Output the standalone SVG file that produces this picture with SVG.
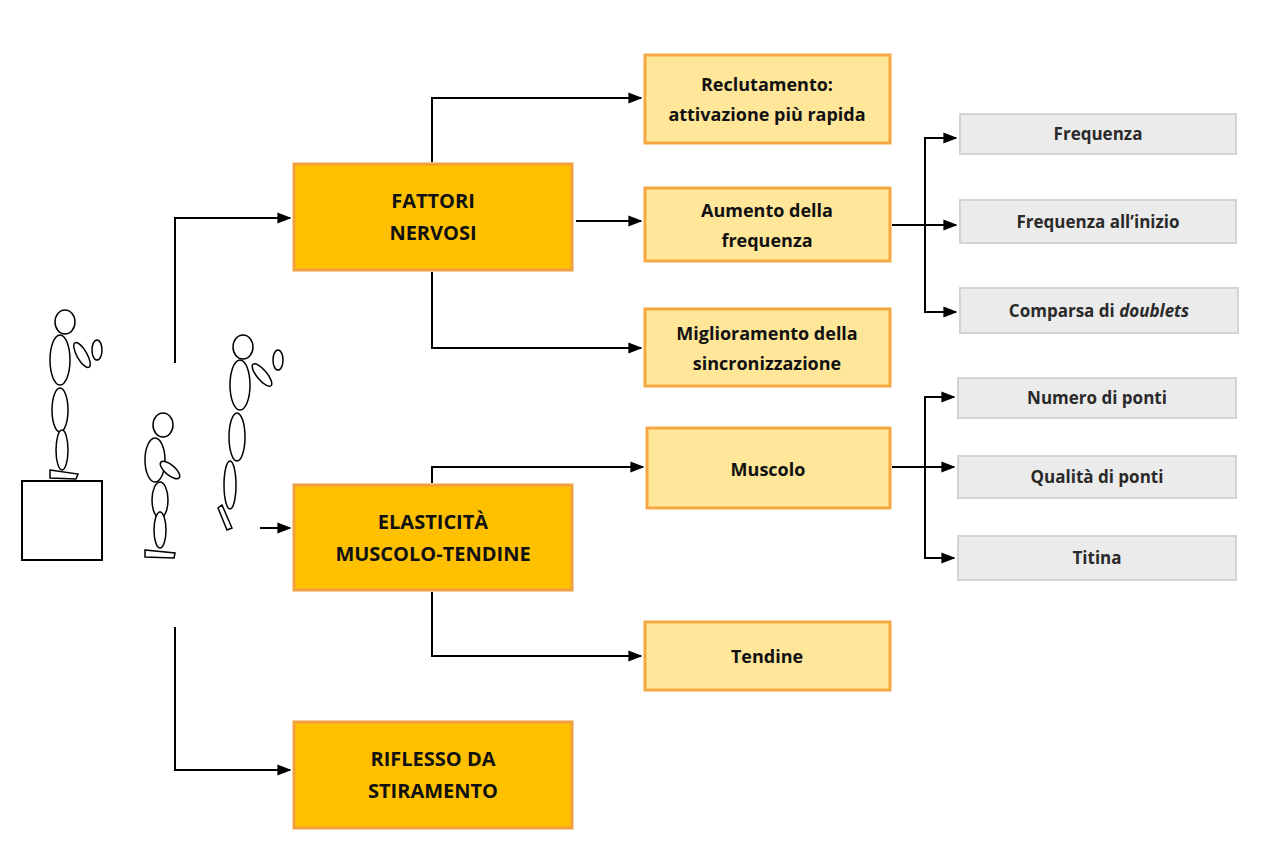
<svg xmlns="http://www.w3.org/2000/svg" width="1280" height="850" viewBox="0 0 1280 850">
<defs>
<marker id="a" viewBox="0 0 10 10" refX="9" refY="5" markerWidth="7" markerHeight="7" orient="auto"><path d="M0,1 L10,5 L0,9 z" fill="#000"/></marker>
<style>
.m{fill:#FFC000;stroke:#F0A040;stroke-width:3}
.s{fill:#FFE699;stroke:#F4A742;stroke-width:3}
.g{fill:#EBEBEB;stroke:#D3D3D3;stroke-width:2}
text{font-family:"Open Sans","Liberation Sans",Arial,sans-serif;text-anchor:middle;fill:#111}
.tm{font-size:20px;font-weight:bold}
.ts{font-size:18px;font-weight:bold}
.tg{font-size:17px;font-weight:bold;fill:#2a2a2a}
.c{fill:none;stroke:#000;stroke-width:2}
.f{fill:#fff;stroke:#000;stroke-width:1.5}
</style>
</defs>
<rect width="1280" height="850" fill="#fff"/>
<g id="figures">
<rect x="22" y="481" width="80" height="79" fill="#fff" stroke="#000" stroke-width="2"/>
<ellipse class="f" cx="65" cy="322" rx="10" ry="12"/>
<ellipse class="f" cx="60" cy="360" rx="10" ry="25"/>
<ellipse class="f" cx="82" cy="355" rx="5" ry="14" transform="rotate(-30 82 355)"/>
<ellipse class="f" cx="97" cy="350" rx="5" ry="10"/>
<ellipse class="f" cx="60" cy="410" rx="8" ry="22"/>
<ellipse class="f" cx="62" cy="450" rx="6" ry="20"/>
<path class="f" d="M50 470 L78 474 L76 479 L50 478 z"/>
<ellipse class="f" cx="163" cy="425" rx="10" ry="12"/>
<ellipse class="f" cx="155" cy="460" rx="10" ry="22"/>
<ellipse class="f" cx="170" cy="470" rx="5" ry="12" transform="rotate(-50 170 470)"/>
<ellipse class="f" cx="160" cy="500" rx="8" ry="18"/>
<ellipse class="f" cx="160" cy="530" rx="6" ry="18"/>
<path class="f" d="M145 550 L175 553 L174 558 L145 557 z"/>
<ellipse class="f" cx="243" cy="347" rx="10" ry="12"/>
<ellipse class="f" cx="240" cy="385" rx="10" ry="25"/>
<ellipse class="f" cx="262" cy="375" rx="5" ry="14" transform="rotate(-40 262 375)"/>
<ellipse class="f" cx="278" cy="360" rx="5" ry="10"/>
<ellipse class="f" cx="237" cy="437" rx="8" ry="24"/>
<ellipse class="f" cx="230" cy="485" rx="6" ry="24"/>
<path class="f" d="M222 505 L232 528 L227 530 L218 508 z"/>
</g>
<g id="connectors">
<path class="c" d="M175 363 V218 H290" marker-end="url(#a)"/>
<path class="c" d="M175 627 V770 H290" marker-end="url(#a)"/>
<path class="c" d="M260 528 H290" marker-end="url(#a)"/>
<path class="c" d="M432 162 V98 H641" marker-end="url(#a)"/>
<path class="c" d="M576 221 H641" marker-end="url(#a)"/>
<path class="c" d="M432 272 V348 H641" marker-end="url(#a)"/>
<path class="c" d="M432 483 V467 H643" marker-end="url(#a)"/>
<path class="c" d="M432 592 V656 H641" marker-end="url(#a)"/>
<path class="c" d="M892 225 H956" marker-end="url(#a)"/>
<path class="c" d="M925 312 V138 H956" marker-end="url(#a)"/>
<path class="c" d="M925 300 V312 H956" marker-end="url(#a)"/>
<path class="c" d="M892 467 H954" marker-end="url(#a)"/>
<path class="c" d="M925 558 V397 H954" marker-end="url(#a)"/>
<path class="c" d="M925 550 V558 H954" marker-end="url(#a)"/>
</g>
<g id="n1"><rect class="m" x="294" y="164" width="278" height="106"/><text class="tm" x="433" y="208">FATTORI</text><text class="tm" x="433" y="240">NERVOSI</text></g>
<g id="n2"><rect class="m" x="294" y="485" width="278" height="105"/><text class="tm" x="433" y="529">ELASTICITÀ</text><text class="tm" x="433" y="561">MUSCOLO-TENDINE</text></g>
<g id="n3"><rect class="m" x="294" y="722" width="278" height="106"/><text class="tm" x="433" y="766">RIFLESSO DA</text><text class="tm" x="433" y="798">STIRAMENTO</text></g>
<g id="n4"><rect class="s" x="645" y="55" width="245" height="88"/><text class="ts" x="767" y="91">Reclutamento:</text><text class="ts" x="767" y="121">attivazione più rapida</text></g>
<g id="n5"><rect class="s" x="645" y="188" width="245" height="73"/><text class="ts" x="767" y="217">Aumento della</text><text class="ts" x="767" y="247">frequenza</text></g>
<g id="n6"><rect class="s" x="645" y="309" width="245" height="77"/><text class="ts" x="767" y="340">Miglioramento della</text><text class="ts" x="767" y="370">sincronizzazione</text></g>
<g id="n7"><rect class="s" x="647" y="428" width="243" height="80"/><text class="ts" x="768" y="476">Muscolo</text></g>
<g id="n8"><rect class="s" x="645" y="622" width="245" height="68"/><text class="ts" x="767" y="663">Tendine</text></g>
<g id="n9"><rect class="g" x="960" y="114" width="276" height="40"/><text class="tg" x="1098" y="140">Frequenza</text></g>
<g id="n10"><rect class="g" x="960" y="200" width="276" height="43"/><text class="tg" x="1098" y="228">Frequenza all’inizio</text></g>
<g id="n11"><rect class="g" x="960" y="288" width="278" height="45"/><text class="tg" x="1099" y="317">Comparsa di <tspan font-style="italic">doublets</tspan></text></g>
<g id="n12"><rect class="g" x="958" y="378" width="278" height="40"/><text class="tg" x="1097" y="404">Numero di ponti</text></g>
<g id="n13"><rect class="g" x="958" y="456" width="278" height="42"/><text class="tg" x="1097" y="483">Qualità di ponti</text></g>
<g id="n14"><rect class="g" x="958" y="536" width="278" height="44"/><text class="tg" x="1097" y="564">Titina</text></g>
</svg>
